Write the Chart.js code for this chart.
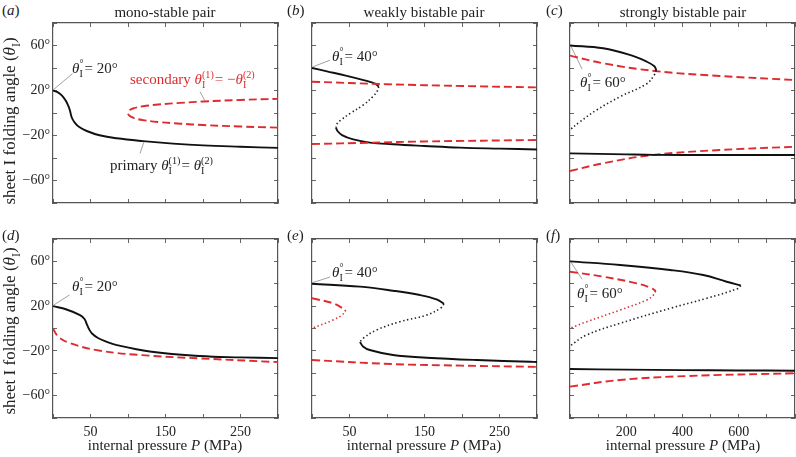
<!DOCTYPE html>
<html lang="en">
<head>
<meta charset="UTF-8">
<title>Folding angle vs internal pressure</title>
<script src="https://cdn.jsdelivr.net/npm/chart.js"></script>
<style>
  body { margin: 0; background: #fff; font-family: 'Liberation Serif', 'DejaVu Serif', serif; color: #222; }
  #fig { position: relative; width: 796px; height: 457px; overflow: hidden; }
  #fig canvas { position: absolute; }
  .t { position: absolute; white-space: nowrap; font-size: 15px; line-height: 1; z-index: 5; }
  .c { transform: translate(-50%, -50%); }
  .l { transform: translate(0, -50%); }
  .rot { transform: translate(-50%, -50%) rotate(-90deg); font-size: 17px; }
  .red { color: #dd2b2f; }
  i { font-style: italic; }
  .stk { display: inline-block; vertical-align: -0.42em; font-size: 0.68em; line-height: 0.95em; text-align: left; margin-right: 1px; }
  .stk span { display: block; }
</style>
</head>
<body>
<div id="fig">
  <canvas id="pa"></canvas><canvas id="pb"></canvas><canvas id="pc"></canvas>
  <canvas id="pd"></canvas><canvas id="pe"></canvas><canvas id="pf"></canvas>

  <div class="t l" style="left:2px;top:10px">(<i>a</i>)</div>
  <div class="t l" style="left:287px;top:10px">(<i>b</i>)</div>
  <div class="t l" style="left:546px;top:10px">(<i>c</i>)</div>
  <div class="t l" style="left:2px;top:235px">(<i>d</i>)</div>
  <div class="t l" style="left:287px;top:235px">(<i>e</i>)</div>
  <div class="t l" style="left:546px;top:235px">(<i>f</i>)</div>

  <div class="t c" style="left:165px;top:12px">mono-stable pair</div>
  <div class="t c" style="left:424px;top:12px">weakly bistable pair</div>
  <div class="t c" style="left:683px;top:12px">strongly bistable pair</div>

  <div class="t rot" style="left:12px;top:121px">sheet I folding angle (<i>θ</i><sub style="font-size:0.7em">I</sub>)</div>
  <div class="t rot" style="left:12px;top:331px">sheet I folding angle (<i>θ</i><sub style="font-size:0.7em">I</sub>)</div>

  <div class="t c" style="left:165px;top:445px">internal pressure <i>P</i> (MPa)</div>
  <div class="t c" style="left:424px;top:445px">internal pressure <i>P</i> (MPa)</div>
  <div class="t c" style="left:683px;top:445px">internal pressure <i>P</i> (MPa)</div>

  <div class="t l" style="left:72px;top:69px"><i>θ</i><span class="stk"><span>°</span><span>I</span></span>= 20°</div>
  <div class="t l red" style="left:130px;top:80px">secondary <i>θ</i><span class="stk"><span>(1)</span><span>I</span></span>= −<i>θ</i><span class="stk"><span>(2)</span><span>I</span></span></div>
  <div class="t l" style="left:110px;top:166px">primary <i>θ</i><span class="stk"><span>(1)</span><span>I</span></span>= <i>θ</i><span class="stk"><span>(2)</span><span>I</span></span></div>
  <div class="t l" style="left:332px;top:57px"><i>θ</i><span class="stk"><span>°</span><span>I</span></span>= 40°</div>
  <div class="t l" style="left:580px;top:83px"><i>θ</i><span class="stk"><span>°</span><span>I</span></span>= 60°</div>
  <div class="t l" style="left:72px;top:287px"><i>θ</i><span class="stk"><span>°</span><span>I</span></span>= 20°</div>
  <div class="t l" style="left:332px;top:273px"><i>θ</i><span class="stk"><span>°</span><span>I</span></span>= 40°</div>
  <div class="t l" style="left:577px;top:294px"><i>θ</i><span class="stk"><span>°</span><span>I</span></span>= 60°</div>
</div>

<script>
// ---- data: pressure P (MPa) and folding angle theta (deg) ----
// (a) mono-stable
const aPrimaryP = [0, 6, 12, 17, 20, 22.5, 25, 29, 35, 45, 62, 85, 120, 160, 200, 250, 300];
const aPrimaryT = [20, 18.5, 15.5, 11, 7, 2.5, -4, -8.5, -12.5, -16, -19.8, -22.5, -25, -27.2, -28.8, -30, -31];
const aSecP = [300, 250, 200, 170, 140, 120, 108, 102, 100, 102, 108, 120, 140, 170, 200, 250, 300];
const aSecT = [-13, -12, -10.7, -9.5, -8, -6.3, -4.5, -2.5, 0, 2.5, 4.3, 6, 7.5, 9, 10.2, 11.6, 12.6];

// (b) weakly bistable
const bUpperP = [0, 20, 45, 70, 84, 89];
const bUpperT = [40, 37, 33.2, 29, 26.2, 23.5];
const bUnstP = [89, 87, 81, 68, 51, 38, 33, 32];
const bUnstT = [23.5, 19.5, 14.5, 7, -0.3, -6.5, -10, -13];
const bLowerP = [32, 34, 40, 55, 77, 108, 150, 197, 250, 300];
const bLowerT = [-13, -16, -19.6, -23.5, -26.3, -27.8, -29.3, -30.8, -31.7, -32.4];
const bSecUpP = [0, 100, 200, 300];
const bSecUpT = [27.8, 25.6, 24, 22.8];
const bSecLoP = [0, 77, 150, 300];
const bSecLoT = [-27.6, -26.4, -25.3, -24];

// (c) strongly bistable
const cUpperP = [0, 118, 213, 273, 300, 307];
const cUpperT = [60, 57.5, 51.6, 45.6, 41.5, 38];
const cUnstP = [307, 300, 273, 178, 95, 36, 0];
const cUnstT = [38, 34, 26, 14.5, 2.7, -7.7, -15];
const cLowerP = [0, 100, 200, 300, 500, 800];
const cLowerT = [-35.9, -36.3, -36.8, -37.2, -37.3, -37.3];
const cSecUpP = [0, 118, 302, 533, 800];
const cSecUpT = [51, 44.2, 37.3, 32.9, 29.3];
const cSecLoP = [0, 118, 296, 533, 800];
const cSecLoT = [-51.6, -44.7, -37.3, -32.9, -30];

// (d) mono-stable, second case
const dPrimaryP = [0, 18, 36, 42, 45, 48, 52, 60, 70, 85, 129, 196, 250, 300];
const dPrimaryT = [20, 17, 12, 8.5, 4, -0.5, -4.5, -8.5, -11.5, -14.8, -20.5, -24.6, -25.8, -26.5];
const dSecP = [0, 7, 23, 63, 129, 196, 289, 300];
const dSecT = [0, -7.3, -13.2, -19.9, -24.3, -26.7, -29.7, -30];

// (e) weakly bistable, second case
const eUpperP = [0, 64, 108, 144, 166, 176];
const eUpperT = [40, 37.4, 33.8, 29.9, 26, 22];
const eUnstP = [176, 172, 153, 117, 86, 68, 64];
const eUnstT = [22, 18.5, 12, 6, -1.4, -8.8, -12];
const eLowerP = [64, 68, 77, 108, 153, 220, 291, 300];
const eLowerT = [-12, -16, -19.2, -23.7, -26.1, -28.2, -29.7, -29.9];
const eLoopStP = [0, 28, 45];
const eLoopStT = [27, 22.5, 16.5];
const eLoopUnP = [45, 40, 28, 0];
const eLoopUnT = [16.5, 12, 7.6, 0.2];
const eSecLoP = [0, 108, 200, 300];
const eSecLoT = [-28.2, -31.8, -33.2, -34.3];

// (f) strongly bistable, second case
const fUpperP = [0, 178, 356, 474, 557, 607];
const fUpperT = [60, 56.8, 52.3, 47.8, 41.8, 38.5];
const fUnstP = [607, 600, 486, 356, 178, 59, 0];
const fUnstT = [38.5, 36, 27, 18, 4.6, -5.8, -15.5];
const fLowerP = [0, 200, 400, 600, 800];
const fLowerT = [-36.2, -36.8, -37.2, -37.5, -37.7];
const fLoopStP = [0, 118, 237, 290, 305];
const fLoopStT = [50.8, 46.3, 40.4, 36, 33.5];
const fLoopUnP = [305, 295, 273, 178, 59, 0];
const fLoopUnT = [33.5, 29.5, 25.5, 16.5, 6, 0.2];
const fSecLoP = [0, 178, 415, 800];
const fSecLoT = [-52, -46, -42.5, -40];

// annotation leader lines [P0, T0, P1, T1]
const leadA = [1, 21, 26, 35];
const leadAsec = [196, 19, 202, 11.5];
const leadAprim = [121, -26, 116, -36];
const leadB = [1, 41, 24, 47];
const leadC = [4, 59, 43, 39];
const leadD = [1, 21, 22, 30];
const leadE = [1, 41, 24, 46];
const leadF = [4, 59, 43, 44];

const yTicks = [-60, -20, 20, 60];

// ---- helpers ----
const pts = (P, T) => P.map((p, i) => ({ x: p, y: T[i] }));
const RED = '#dd2b2f';
const solid = (P, T) => ({ data: pts(P, T), borderColor: '#111', borderWidth: 1.9 });
const dotted = (P, T, c) => ({ data: pts(P, T), borderColor: c || '#222', borderWidth: 1.6, borderDash: [1.4, 2.6] });
const dashed = (P, T) => ({ data: pts(P, T), borderColor: RED, borderWidth: 1.9, borderDash: [8, 4] });
const lead = (L) => ({ data: [{ x: L[0], y: L[1] }, { x: L[2], y: L[3] }], borderColor: '#8a8a8a', borderWidth: 0.8, tension: 0 });

const tickFont = { family: "'Liberation Serif', serif", size: 14 };
const gridOpt = { drawOnChartArea: false, tickLength: -4, color: '#666', lineWidth: 1 };
const borderOpt = { color: '#555', width: 1.2 };
// fixed axis sizes so every plot box lands where it should
const noPad = s => { s.paddingTop = 0; s.paddingBottom = 0; s.paddingLeft = 0; s.paddingRight = 0; };

function panel(id, box, xMax, xStep, xLab, showY, sets) {
  const cv = document.getElementById(id);
  cv.width = box.r - box.l + 51;
  cv.height = box.b - box.t + 34;
  cv.style.left = (box.l - 50) + 'px';
  cv.style.top = (box.t - 4) + 'px';
  sets.forEach(s => { s.xAxisID = 'x'; s.yAxisID = 'y'; if (s.tension === undefined) s.tension = 0.4; });
  new Chart(cv, {
    type: 'scatter',
    data: { datasets: sets },
    options: {
      responsive: false, animation: false, devicePixelRatio: 1,
      showLine: true,
      elements: { point: { radius: 0, hoverRadius: 0 }, line: { fill: false } },
      layout: { padding: { left: 0, right: 1, top: 4, bottom: 0 } },
      plugins: { legend: { display: false }, tooltip: { enabled: false } },
      scales: {
        x: {
          type: 'linear', position: 'bottom', min: 0, max: xMax,
          ticks: { stepSize: xStep, display: xLab.length > 0, autoSkip: false, maxRotation: 0,
                   padding: 10, color: '#222', font: tickFont,
                   callback: v => xLab.includes(v) ? String(v) : '' },
          grid: gridOpt, border: borderOpt,
          afterFit: s => { s.height = 30; noPad(s); }
        },
        y: {
          type: 'linear', position: 'left', min: -80, max: 80,
          ticks: { stepSize: 20, display: showY, autoSkip: false, padding: 7, color: '#222', font: tickFont,
                   callback: v => yTicks.includes(v) ? (v < 0 ? '\u2212' + (-v) : v) + '°' : '' },
          grid: gridOpt, border: borderOpt,
          afterFit: s => { s.width = 50; noPad(s); }
        },
        x2: {
          type: 'linear', position: 'top', min: 0, max: xMax,
          ticks: { stepSize: xStep, display: false },
          grid: gridOpt, border: borderOpt,
          afterFit: s => { s.height = 0; noPad(s); }
        },
        y2: {
          type: 'linear', position: 'right', min: -80, max: 80,
          ticks: { stepSize: 20, display: false },
          grid: gridOpt, border: borderOpt,
          afterFit: s => { s.width = 0; noPad(s); }
        }
      }
    }
  });
}

const rowTop = { t: 23, b: 203 }, rowBot = { t: 239, b: 418 };
const colA = { l: 53, r: 278 }, colB = { l: 312, r: 537 }, colC = { l: 570, r: 795 };

panel('pa', { ...colA, ...rowTop }, 300, 50, [], true, [
  dashed(aSecP, aSecT), solid(aPrimaryP, aPrimaryT),
  lead(leadA), lead(leadAsec), lead(leadAprim)
]);
panel('pb', { ...colB, ...rowTop }, 300, 50, [], false, [
  dashed(bSecUpP, bSecUpT), dashed(bSecLoP, bSecLoT),
  solid(bUpperP, bUpperT), dotted(bUnstP, bUnstT), solid(bLowerP, bLowerT), lead(leadB)
]);
panel('pc', { ...colC, ...rowTop }, 800, 100, [], false, [
  solid(cUpperP, cUpperT), dotted(cUnstP, cUnstT), solid(cLowerP, cLowerT),
  dashed(cSecUpP, cSecUpT), dashed(cSecLoP, cSecLoT), lead(leadC)
]);
panel('pd', { ...colA, ...rowBot }, 300, 50, [50, 150, 250], true, [
  dashed(dSecP, dSecT), solid(dPrimaryP, dPrimaryT), lead(leadD)
]);
panel('pe', { ...colB, ...rowBot }, 300, 50, [50, 150, 250], false, [
  dashed(eLoopStP, eLoopStT), dotted(eLoopUnP, eLoopUnT, RED), dashed(eSecLoP, eSecLoT),
  solid(eUpperP, eUpperT), dotted(eUnstP, eUnstT), solid(eLowerP, eLowerT), lead(leadE)
]);
panel('pf', { ...colC, ...rowBot }, 800, 100, [200, 400, 600], false, [
  dashed(fLoopStP, fLoopStT), dotted(fLoopUnP, fLoopUnT, RED), dashed(fSecLoP, fSecLoT),
  solid(fUpperP, fUpperT), dotted(fUnstP, fUnstT), solid(fLowerP, fLowerT), lead(leadF)
]);
</script>
</body>
</html>
